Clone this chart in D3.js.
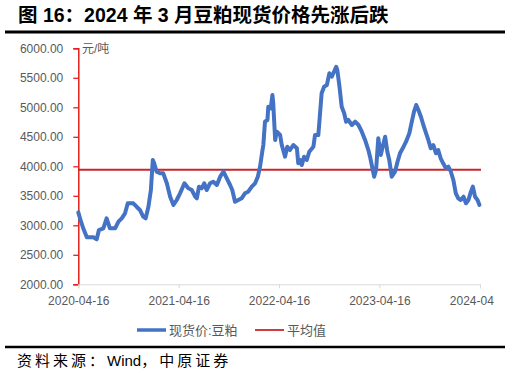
<!DOCTYPE html>
<html lang="zh">
<head>
<meta charset="UTF-8">
<title>豆粕现货价格</title>
<script src="https://d3js.org/d3.v7.min.js"></script>
<style>
  body { margin: 0; background: #fff; }
  svg text { font-family: "Liberation Sans", "Noto Sans CJK SC", sans-serif; }
</style>
</head>
<body>
<script>
// 现货价:豆粕 (元/吨)
const dates = [
  "2020-04-16","2020-04-26","2020-05-04","2020-05-17","2020-05-29","2020-06-10","2020-06-22","2020-06-30",
  "2020-07-16","2020-07-28","2020-08-09","2020-08-28","2020-09-09","2020-09-21","2020-10-03","2020-10-13",
  "2020-11-02","2020-11-14","2020-11-26","2020-12-08","2020-12-17","2020-12-27","2021-01-05","2021-01-12",
  "2021-01-17","2021-01-26","2021-02-07","2021-02-19","2021-03-04","2021-03-16","2021-03-28","2021-04-09",
  "2021-04-21","2021-05-07","2021-05-21","2021-06-03","2021-06-15","2021-06-21","2021-06-29","2021-07-09",
  "2021-07-18","2021-07-27","2021-08-08","2021-08-20","2021-09-02","2021-09-14","2021-09-26","2021-10-08",
  "2021-10-20","2021-10-28","2021-11-07","2021-11-19","2021-12-01","2021-12-13","2021-12-25","2022-01-07",
  "2022-01-19","2022-01-29","2022-02-06","2022-02-14","2022-02-18","2022-02-24","2022-03-05","2022-03-08",
  "2022-03-17","2022-03-23","2022-03-26","2022-04-02","2022-04-08","2022-04-20","2022-04-26","2022-05-08",
  "2022-05-16","2022-05-26","2022-06-07","2022-06-20","2022-06-25","2022-07-02","2022-07-08","2022-07-16",
  "2022-07-26","2022-08-04","2022-08-19","2022-08-25","2022-09-06","2022-09-18","2022-09-27","2022-10-07",
  "2022-10-16","2022-10-25","2022-11-02","2022-11-10","2022-11-14","2022-11-22","2022-11-30","2022-12-09",
  "2022-12-16","2022-12-24","2023-01-06","2023-01-18","2023-01-30","2023-02-11","2023-02-23","2023-03-07",
  "2023-03-13","2023-03-23","2023-03-28","2023-04-04","2023-04-12","2023-04-21","2023-04-28","2023-05-07",
  "2023-05-15","2023-05-22","2023-05-31","2023-06-12","2023-06-21","2023-06-30","2023-07-10","2023-07-22",
  "2023-08-03","2023-08-12","2023-08-20","2023-08-28","2023-09-05","2023-09-14","2023-09-23","2023-10-03",
  "2023-10-11","2023-10-20","2023-10-29","2023-11-08","2023-11-16","2023-11-25","2023-12-04","2023-12-14",
  "2023-12-23","2024-01-01","2024-01-10","2024-01-19","2024-01-28","2024-02-06","2024-02-16","2024-02-25",
  "2024-03-05","2024-03-14","2024-03-21","2024-03-29","2024-04-07","2024-04-14"
];
const prices = [
  3220,3061,2949,2797,2797,2797,2763,2920,
  2949,3118,2949,2949,3061,3118,3203,3373,
  3373,3315,3260,3146,3118,3315,3598,4107,
  4051,3908,3881,3881,3712,3485,3344,3429,
  3542,3712,3627,3598,3485,3458,3655,3627,
  3712,3598,3712,3739,3683,3824,3908,3796,
  3683,3598,3400,3429,3458,3542,3570,3655,
  3712,3824,3993,4247,4361,4756,4785,5010,
  4983,5208,5068,4446,4586,4530,4361,4163,
  4332,4276,4361,4305,4051,4107,4022,4163,
  4107,4247,4332,4530,4530,5237,5349,5377,
  5576,5519,5603,5688,5632,5349,5010,4898,
  4756,4785,4700,4756,4700,4586,4446,4276,
  4163,3937,3824,3937,4475,4192,4332,4502,
  4247,4107,3824,3908,4078,4220,4305,4417,
  4560,4756,4925,5039,4954,4841,4700,4560,
  4446,4305,4361,4220,4276,4136,4051,3966,
  3993,3908,3768,3542,3458,3429,3485,3373,
  3429,3570,3655,3485,3429,3344
];
const meanValue = 3942;
const xTickDates = ["2020-04-16","2021-04-16","2022-04-16","2023-04-16","2024-04-16"];
const xTickLabels = ["2020-04-16","2021-04-16","2022-04-16","2023-04-16","2024-04"];
const yTicks = [2000,2500,3000,3500,4000,4500,5000,5500,6000];

const W = 510, H = 378;
const parse = d3.timeParse("%Y-%m-%d");
const data = dates.map((d, i) => ({ date: parse(d), v: prices[i] }));

const x = d3.scaleTime()
  .domain([parse("2020-04-16"), parse("2024-04-16")])
  .range([78.3, 480]);
const y = d3.scaleLinear().domain([2000, 6000]).range([284.3, 48.3]);

const svg = d3.select("body").append("svg")
  .attr("width", W).attr("height", H);

// title + rules
svg.append("text")
  .attr("x", 18).attr("y", 22)
  .attr("font-size", 19.5).attr("font-weight", "bold").attr("fill", "#000")
  .text("图 16：2024 年 3 月豆粕现货价格先涨后跌");
svg.append("line").attr("x1", 5).attr("x2", 505).attr("y1", 32).attr("y2", 32)
  .attr("stroke", "#000").attr("stroke-width", 3);
svg.append("line").attr("x1", 5).attr("x2", 505).attr("y1", 347).attr("y2", 347)
  .attr("stroke", "#000").attr("stroke-width", 2.5);

// y axis
const yAxis = svg.append("g")
  .attr("transform", "translate(78.3,0)")
  .call(d3.axisLeft(y).tickValues(yTicks).tickFormat(d3.format(".2f")).tickSizeOuter(0).tickSize(5).tickPadding(10));
yAxis.select(".domain").attr("stroke", "#e3201b").attr("stroke-width", 1.5);
yAxis.selectAll(".tick line").attr("stroke", "#e3201b").attr("stroke-width", 1.3);
yAxis.selectAll(".tick text").attr("fill", "#595959").attr("font-size", 12)
  .style("font-family", "'Liberation Sans', sans-serif");

svg.append("text").attr("x", 82).attr("y", 53)
  .attr("font-size", 12).attr("fill", "#595959").text("元/吨");

// x axis (last label is clipped at the right edge in the original)
const xAxis = svg.append("g")
  .attr("transform", "translate(0,284.3)")
  .call(d3.axisBottom(x).tickValues(xTickDates.map(parse))
    .tickFormat((d, i) => xTickLabels[i]).tickSizeOuter(0).tickSize(4).tickPadding(8));
xAxis.select(".domain").attr("stroke", "#d9d9d9").attr("stroke-width", 1);
xAxis.selectAll(".tick line").attr("stroke", "#d9d9d9");
xAxis.selectAll(".tick text").attr("fill", "#595959").attr("font-size", 12)
  .style("font-family", "'Liberation Sans', sans-serif");
xAxis.selectAll(".tick text").filter((d, i) => i === xTickLabels.length - 1)
  .attr("text-anchor", "start").attr("dx", -30.7);

// mean line
svg.append("line")
  .attr("x1", x(parse("2020-04-16"))).attr("x2", x(parse("2024-04-16")) + 1)
  .attr("y1", y(meanValue)).attr("y2", y(meanValue))
  .attr("stroke", "#c9262b").attr("stroke-width", 2);

// price line
svg.append("path")
  .datum(data)
  .attr("fill", "none")
  .attr("stroke", "#4472c4")
  .attr("stroke-width", 4)
  .attr("stroke-linejoin", "round")
  .attr("stroke-linecap", "round")
  .attr("d", d3.line().x(d => x(d.date)).y(d => y(d.v)));

// legend
const lg = svg.append("g").attr("transform", "translate(0,330)");
lg.append("line").attr("x1", 137).attr("x2", 166).attr("y1", 0).attr("y2", 0)
  .attr("stroke", "#4472c4").attr("stroke-width", 3.5);
lg.append("text").attr("x", 169).attr("y", 4.5).attr("font-size", 13).attr("fill", "#595959")
  .text("现货价:豆粕");
lg.append("line").attr("x1", 255).attr("x2", 284).attr("y1", 0).attr("y2", 0)
  .attr("stroke", "#c9262b").attr("stroke-width", 1.8);
lg.append("text").attr("x", 287).attr("y", 4.5).attr("font-size", 13).attr("fill", "#595959")
  .text("平均值");

// source
const src = svg.append("text").attr("x", 17).attr("y", 366)
  .attr("font-size", 15).attr("fill", "#000");
src.append("tspan").attr("letter-spacing", 3).text("资料来源：");
src.append("tspan").text("Wind");
src.append("tspan").attr("letter-spacing", 3).text("，中原证券");
</script>
</body>
</html>
